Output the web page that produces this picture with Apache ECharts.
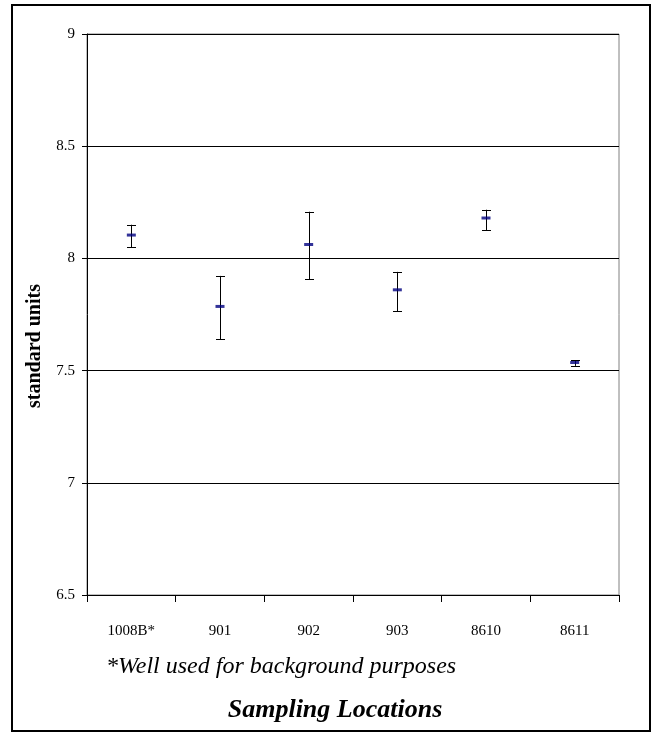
<!DOCTYPE html>
<html>
<head>
<meta charset="utf-8">
<script src="https://cdn.jsdelivr.net/npm/echarts@6/dist/echarts.min.js"></script>
<style>
  html, body { margin: 0; padding: 0; background: #fff; }
  #chart { width: 656px; height: 732px; }
</style>
</head>
<body>
<div id="chart"></div>
<script>
// Sampling locations and measured pH (standard units): mean with low/high range
const categories = ['1008B*', '901', '902', '903', '8610', '8611'];
const means = [8.104, 7.786, 8.062, 7.860, 8.180, 7.536];
const lows  = [8.049, 7.639, 7.908, 7.765, 8.126, 7.521];
const highs = [8.150, 7.922, 8.208, 7.940, 8.217, 7.546];
const yTicks = [6.5, 7, 7.5, 8, 8.5, 9];

const serif = "'Liberation Serif', 'Times New Roman', serif";

const chart = echarts.init(document.getElementById('chart'), null, { renderer: 'canvas' });

const rangeData = categories.map((c, i) => [i, lows[i], highs[i]]);

chart.setOption({
  animation: false,
  backgroundColor: '#fff',
  grid: {
    left: 87, top: 34, width: 532, height: 561,
    show: true, borderColor: '#808080', borderWidth: 1
  },
  xAxis: {
    type: 'category',
    data: categories,
    boundaryGap: true,
    axisLine: { lineStyle: { color: '#000', width: 1 } },
    axisTick: { show: true, length: 7, alignWithLabel: false, lineStyle: { color: '#000' } },
    axisLabel: {
      color: '#000', fontFamily: serif, fontSize: 15,
      margin: 36, verticalAlign: 'middle', interval: 0
    },
    splitLine: { show: false }
  },
  yAxis: {
    type: 'value',
    min: yTicks[0], max: yTicks[yTicks.length - 1], interval: 0.5,
    axisLine: { show: true, lineStyle: { color: '#000', width: 1 } },
    axisTick: { show: true, length: 5, lineStyle: { color: '#000' } },
    axisLabel: {
      color: '#000', fontFamily: serif, fontSize: 15, margin: 12,
      formatter: v => String(v)
    },
    splitLine: { show: true, lineStyle: { color: '#000', width: 1 } }
  },
  series: [
    {
      // vertical range bars with end caps
      type: 'custom',
      data: rangeData,
      z: 3,
      renderItem: function (params, api) {
        const lo = api.coord([api.value(0), api.value(1)]);
        const hi = api.coord([api.value(0), api.value(2)]);
        const x = Math.round(lo[0]) + 0.5;
        const cap = 4.5;
        const style = { stroke: '#000', lineWidth: 1 };
        return {
          type: 'group',
          children: [
            { type: 'line', shape: { x1: x, y1: hi[1], x2: x, y2: lo[1] }, style: style },
            { type: 'line', shape: { x1: x - cap, y1: Math.round(hi[1]) + 0.5, x2: x + cap, y2: Math.round(hi[1]) + 0.5 }, style: style },
            { type: 'line', shape: { x1: x - cap, y1: Math.round(lo[1]) + 0.5, x2: x + cap, y2: Math.round(lo[1]) + 0.5 }, style: style }
          ]
        };
      }
    },
    {
      // mean markers
      type: 'scatter',
      data: means,
      symbol: 'rect',
      symbolSize: [9, 3],
      itemStyle: { color: '#000080' },
      z: 4
    }
  ],
  graphic: [
    {
      type: 'rect',
      shape: { x: 12, y: 5, width: 638, height: 726 },
      style: { fill: 'none', stroke: '#000', lineWidth: 2 },
      silent: true
    },
    {
      type: 'text',
      x: 35, y: 346,
      rotation: Math.PI / 2,
      style: {
        text: 'standard units',
        fill: '#000',
        font: 'bold 20px ' + serif,
        align: 'center', verticalAlign: 'middle'
      }
    },
    {
      type: 'text',
      x: 106, y: 667,
      style: {
        text: '*Well used for background purposes',
        fill: '#000',
        font: 'italic 24px ' + serif,
        align: 'left', verticalAlign: 'middle'
      }
    },
    {
      type: 'text',
      x: 335, y: 710,
      style: {
        text: 'Sampling Locations',
        fill: '#000',
        font: 'italic bold 26px ' + serif,
        align: 'center', verticalAlign: 'middle'
      }
    }
  ]
});
</script>
</body>
</html>
